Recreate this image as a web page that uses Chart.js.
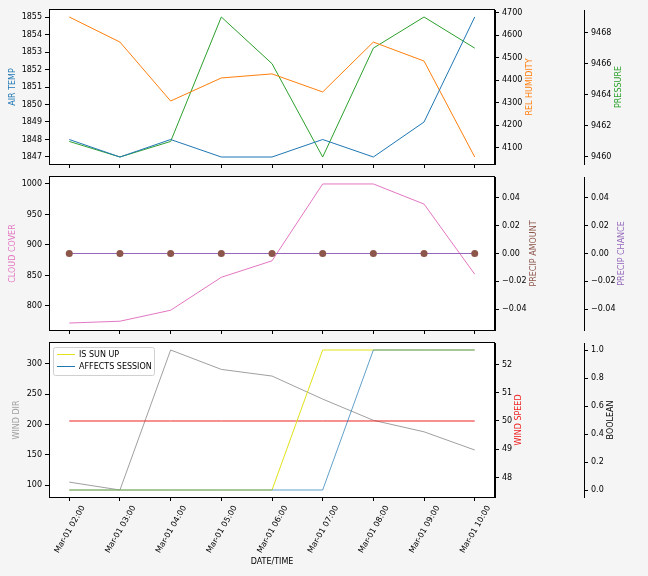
<!DOCTYPE html>
<html>
<head>
<meta charset="utf-8">
<script src="https://cdn.jsdelivr.net/npm/chart.js@4.4.1/dist/chart.umd.min.js"></script>
<style>
    body { margin: 0; background: #f5f5f5; }
    #wrap { position: relative; width: 648px; height: 576px; }
    canvas { position: absolute; left: 0; }
</style>
</head>
<body>
<div id="wrap">
    <canvas id="c1" width="648" height="172" style="top:0px"></canvas>
    <canvas id="c2" width="648" height="169" style="top:169px"></canvas>
    <canvas id="c3" width="648" height="241" style="top:335px"></canvas>
</div>
<script>
"use strict";

// --- Data ---
const times = ["Mar-01 02:00", "Mar-01 03:00", "Mar-01 04:00", "Mar-01 05:00", "Mar-01 06:00",
               "Mar-01 07:00", "Mar-01 08:00", "Mar-01 09:00", "Mar-01 10:00"];

const airTemp        = [1848, 1847, 1848, 1847, 1847, 1848, 1847, 1849, 1855];
const relHumidity    = [4680, 4569, 4308, 4410, 4428, 4348, 4569, 4485, 4060];
const pressure       = [9461, 9460, 9461, 9469, 9466, 9460, 9467, 9469, 9467];
const cloudCover     = [772, 775, 793, 847, 874, 1000, 1000, 967, 852];
const precipAmount   = [0, 0, 0, 0, 0, 0, 0, 0, 0];
const precipChance   = [0, 0, 0, 0, 0, 0, 0, 0, 0];
const windDir        = [105, 92, 323, 291, 280, 242, 207, 188, 158];
const windSpeed      = [50, 50, 50, 50, 50, 50, 50, 50, 50];
const isSunUp        = [0, 0, 0, 0, 0, 1, 1, 1, 1];
const affectsSession = [0, 0, 0, 0, 0, 0, 1, 1, 1];

// tick labels
const airTempTicks   = [1847, 1848, 1849, 1850, 1851, 1852, 1853, 1854, 1855];
const humidityTicks  = [4100, 4200, 4300, 4400, 4500, 4600, 4700];
const pressureTicks  = [9460, 9462, 9464, 9466, 9468];
const cloudTicks     = [800, 850, 900, 950, 1000];
const precipTicks    = [-0.04, -0.02, 0, 0.02, 0.04];
const windDirTicks   = [100, 150, 200, 250, 300];
const windSpeedTicks = [48, 49, 50, 51, 52];
const boolTicks      = [0, 0.2, 0.4, 0.6, 0.8, 1.0];

Chart.defaults.font.family = "DejaVu Sans";
Chart.defaults.font.size = 8;
Chart.defaults.color = "#000";
Chart.defaults.animation = false;

const points = arr => arr.map((v, i) => ({ x: i, y: v }));
const minus = s => s.replace("-", "\u2212");

function line(label, values, color, axis, extra) {
    return Object.assign({
        label: label,
        data: points(values),
        borderColor: color,
        backgroundColor: color,
        borderWidth: 1,
        pointRadius: 0,
        tension: 0,
        yAxisID: axis
    }, extra || {});
}

function yAxis(position, weight, min, max, ticks, width, fmt) {
    return {
        type: "linear",
        position: position,
        weight: weight,
        min: min,
        max: max,
        afterBuildTicks: s => { s.ticks = ticks.map(v => ({ value: v })); },
        afterFit: s => { s.width = width; },
        ticks: { padding: 3, callback: v => minus(fmt(v)) },
        grid: { drawOnChartArea: false, color: "#000", tickLength: 4 },
        border: { color: "#000", width: 1 }
    };
}

function xAxis(height, showLabels) {
    return {
        type: "linear",
        min: -0.4,
        max: times.length - 1 + 0.4,
        afterBuildTicks: s => { s.ticks = times.map((t, i) => ({ value: i })); },
        afterFit: s => { s.height = height; },
        ticks: {
            display: showLabels,
            autoSkip: false,
            minRotation: 60,
            maxRotation: 60,
            labelOffset: 14,
            padding: 3,
            callback: v => times[v]
        },
        title: {
            display: showLabels,
            text: "DATE/TIME",
            padding: { top: 4, bottom: 9 }
        },
        grid: { drawOnChartArea: false, color: "#000", tickLength: 4 },
        border: { color: "#000", width: 1 }
    };
}

// White plot face, black frame, rotated axis titles, inset legend
function decor(titles, legendLabels) {
    return {
        id: "decor",
        beforeDraw(chart) {
            const { ctx, chartArea: a } = chart;
            ctx.save();
            ctx.fillStyle = "#fff";
            ctx.fillRect(a.left, a.top, a.right - a.left, a.bottom - a.top);
            ctx.restore();
        },
        afterDraw(chart) {
            const { ctx, chartArea: a } = chart;
            ctx.save();
            ctx.strokeStyle = "#000";
            ctx.lineWidth = 1;
            ctx.strokeRect(Math.round(a.left) + 0.5, Math.round(a.top) - 0.5,
                           Math.round(a.right - a.left) - 1, Math.round(a.bottom - a.top) + 1);

            ctx.font = "8px 'DejaVu Sans'";
            ctx.textAlign = "center";
            ctx.textBaseline = "middle";
            const yc = (a.top + a.bottom) / 2;
            titles.forEach(t => {
                ctx.save();
                ctx.translate(t.x, yc);
                ctx.rotate(-Math.PI / 2);
                ctx.fillStyle = t.color;
                ctx.fillText(t.text, 0, 0);
                ctx.restore();
            });

            if (legendLabels) {
                const bx = a.left + 4, by = a.top + 4, bw = 101, bh = 28;
                ctx.fillStyle = "rgba(255,255,255,0.8)";
                ctx.strokeStyle = "#d0d0d0";
                ctx.beginPath();
                ctx.roundRect(bx + 0.5, by + 0.5, bw, bh, 2);
                ctx.fill();
                ctx.stroke();
                ctx.textAlign = "left";
                legendLabels.forEach((lbl, i) => {
                    const ds = chart.data.datasets.find(d => d.label === lbl);
                    const ry = by + 7.5 + i * 12;
                    ctx.strokeStyle = ds.legendColor || ds.borderColor;
                    ctx.beginPath();
                    ctx.moveTo(bx + 4, ry);
                    ctx.lineTo(bx + 22, ry);
                    ctx.stroke();
                    ctx.fillStyle = "#000";
                    ctx.fillText(lbl, bx + 26, ry);
                });
            }
            ctx.restore();
        }
    };
}

const common = {
    responsive: false,
    animation: false,
    plugins: { legend: { display: false }, tooltip: { enabled: false } }
};

// --- Panel 1: temperature / humidity / pressure ---
new Chart(document.getElementById("c1"), {
    type: "line",
    data: {
        datasets: [
            line("AIR TEMP", airTemp, "#1f77b4", "y"),
            line("REL HUMIDITY", relHumidity, "#ff7f0e", "y1"),
            line("PRESSURE", pressure, "#2ca02c", "y2")
        ]
    },
    options: Object.assign({}, common, {
        layout: { padding: { top: 10, left: 0, right: 0, bottom: 0 } },
        scales: {
            x: xAxis(8, false),
            y: yAxis("left", 0, 1846.6, 1855.4, airTempTicks, 49, v => String(v)),
            y1: yAxis("right", 0, 4029, 4711, humidityTicks, 89, v => String(v)),
            y2: yAxis("right", 1, 9459.55, 9469.45, pressureTicks, 64, v => String(v))
        }
    }),
    plugins: [decor([
        { text: "AIR TEMP", color: "#1f77b4", x: 13 },
        { text: "REL HUMIDITY", color: "#ff7f0e", x: 530 },
        { text: "PRESSURE", color: "#2ca02c", x: 619 }
    ])]
});

// --- Panel 2: cloud cover / precipitation ---
new Chart(document.getElementById("c2"), {
    type: "line",
    data: {
        datasets: [
            line("PRECIP AMOUNT", precipAmount, "#8c564b", "y1", { showLine: false, pointRadius: 3.5, pointBorderWidth: 0 }),
            line("PRECIP CHANCE", precipChance, "#9467bd", "y2"),
            line("CLOUD COVER", cloudCover, "#e377c2", "y")
        ]
    },
    options: Object.assign({}, common, {
        layout: { padding: { top: 8, left: 0, right: 0, bottom: 0 } },
        scales: {
            x: xAxis(8, false),
            y: yAxis("left", 0, 760.6, 1011.4, cloudTicks, 49, v => String(v)),
            y1: yAxis("right", 0, -0.055, 0.055, precipTicks, 89, v => v.toFixed(2)),
            y2: yAxis("right", 1, -0.055, 0.055, precipTicks, 64, v => v.toFixed(2))
        }
    }),
    plugins: [decor([
        { text: "CLOUD COVER", color: "#e377c2", x: 13 },
        { text: "PRECIP AMOUNT", color: "#8c564b", x: 534 },
        { text: "PRECIP CHANCE", color: "#9467bd", x: 622 }
    ])]
});

// --- Panel 3: wind / booleans ---
new Chart(document.getElementById("c3"), {
    type: "line",
    data: {
        datasets: [
            line("AFFECTS SESSION", affectsSession, "rgba(31,119,180,0.7)", "y2", { legendColor: "#1f77b4" }),
            line("IS SUN UP", isSunUp, "#e2e21a", "y2"),
            line("WIND SPEED", windSpeed, "#ee2222", "y1"),
            line("WIND DIR", windDir, "#a0a0a0", "y")
        ]
    },
    options: Object.assign({}, common, {
        layout: { padding: { top: 8, left: 0, right: 0, bottom: 0 } },
        scales: {
            x: xAxis(79, true),
            y: yAxis("left", 0, 80.45, 334.55, windDirTicks, 49, v => String(v)),
            y1: yAxis("right", 0, 47.31, 52.76, windSpeedTicks, 89, v => String(v)),
            y2: yAxis("right", 1, -0.05, 1.05, boolTicks, 64, v => v.toFixed(1))
        }
    }),
    plugins: [decor([
        { text: "WIND DIR", color: "#a0a0a0", x: 17 },
        { text: "WIND SPEED", color: "#ee2222", x: 519 },
        { text: "BOOLEAN", color: "#000", x: 611 }
    ], ["IS SUN UP", "AFFECTS SESSION"])]
});
</script>
</body>
</html>
